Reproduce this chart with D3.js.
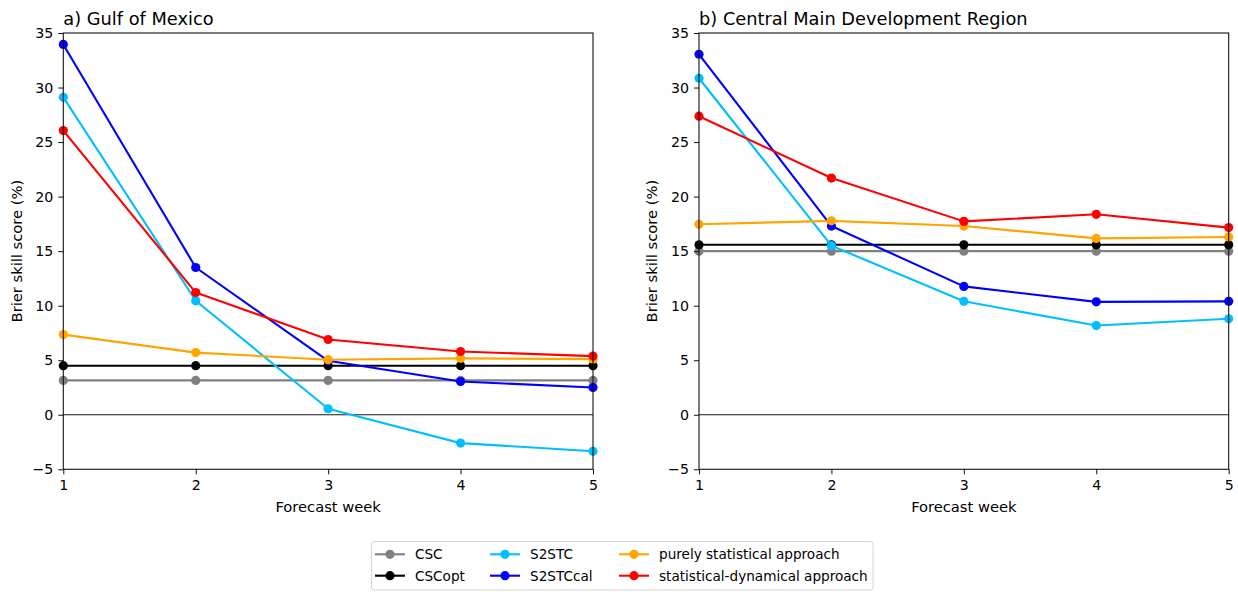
<!DOCTYPE html>
<html>
<head>
<meta charset="utf-8">
<script src="https://cdn.jsdelivr.net/npm/d3@7"></script>
<style>
  body { margin: 0; background: #fff; }
  svg { font-family: "DejaVu Sans", sans-serif; }
</style>
</head>
<body>
<svg id="chart" width="1238" height="592"></svg>
<script>
// forecast weeks on the x axis
var weeks = [1, 2, 3, 4, 5];
var yTicks = [-5, 0, 5, 10, 15, 20, 25, 30, 35];

var seriesNames = ["CSC", "CSCopt", "S2STC", "S2STCcal", "purely statistical approach", "statistical-dynamical approach"];
var seriesColors = ["#808080", "#000000", "#00bfff", "#0000ff", "#ffa500", "#ff0000"];

// a) Gulf of Mexico
var gulfCSC      = [3.15, 3.15, 3.15, 3.15, 3.15];
var gulfCSCopt   = [4.5, 4.5, 4.5, 4.5, 4.5];
var gulfS2STC    = [29.1, 10.45, 0.55, -2.6, -3.35];
var gulfS2STCcal = [33.95, 13.5, 4.95, 3.05, 2.5];
var gulfStat     = [7.35, 5.7, 5.05, 5.17, 5.1];
var gulfStatDyn  = [26.05, 11.2, 6.9, 5.8, 5.38];

// b) Central Main Development Region
var mdrCSC      = [15.0, 15.0, 15.0, 15.0, 15.0];
var mdrCSCopt   = [15.58, 15.58, 15.58, 15.58, 15.58];
var mdrS2STC    = [30.85, 15.5, 10.4, 8.18, 8.8];
var mdrS2STCcal = [33.05, 17.3, 11.77, 10.35, 10.4];
var mdrStat     = [17.46, 17.78, 17.3, 16.17, 16.3];
var mdrStatDyn  = [27.37, 21.7, 17.73, 18.38, 17.16];

var panels = [
  {title: "a) Gulf of Mexico", left: 63.3, series: [gulfCSC, gulfCSCopt, gulfS2STC, gulfS2STCcal, gulfStat, gulfStatDyn]},
  {title: "b) Central Main Development Region", left: 699, series: [mdrCSC, mdrCSCopt, mdrS2STC, mdrS2STCcal, mdrStat, mdrStatDyn]}
];

var svg = d3.select("#chart");
var plotW = 529.7, plotTop = 33, plotBottom = 469.3;

panels.forEach(function(p){
  var x = d3.scaleLinear().domain([1, 5]).range([p.left, p.left + plotW]);
  var y = d3.scaleLinear().domain([-5, 35]).range([plotBottom, plotTop]);
  var g = svg.append("g");

  // zero line
  g.append("line")
    .attr("x1", x(1)).attr("x2", x(5))
    .attr("y1", y(0)).attr("y2", y(0))
    .attr("stroke", "#000").attr("stroke-width", 0.9);

  var line = d3.line().x(function(d, i){ return x(weeks[i]); }).y(function(d){ return y(d); });
  p.series.forEach(function(vals, k){
    var s = g.append("g");
    s.append("path").datum(vals)
      .attr("d", line)
      .attr("fill", "none")
      .attr("stroke", seriesColors[k])
      .attr("stroke-width", 2.1)
      .attr("stroke-linejoin", "round");
    s.selectAll("circle").data(vals).enter().append("circle")
      .attr("cx", function(d, i){ return x(weeks[i]); })
      .attr("cy", function(d){ return y(d); })
      .attr("r", 4.6)
      .attr("fill", seriesColors[k]);
  });

  // frame
  g.append("rect")
    .attr("x", x(1)).attr("y", plotTop)
    .attr("width", plotW).attr("height", plotBottom - plotTop)
    .attr("fill", "none").attr("stroke", "#111").attr("stroke-width", 1.1);

  var yAxis = d3.axisLeft(y).tickValues(yTicks).tickSize(5).tickPadding(5).tickSizeOuter(0);
  var xAxis = d3.axisBottom(x).tickValues(weeks).tickFormat(d3.format("d")).tickSize(5).tickPadding(5.5).tickSizeOuter(0);

  var ya = g.append("g").attr("transform", "translate(" + x(1) + ",0)").call(yAxis);
  var xa = g.append("g").attr("transform", "translate(0," + plotBottom + ")").call(xAxis);
  [ya, xa].forEach(function(a){
    a.select(".domain").remove();
    a.selectAll("line").attr("stroke", "#111").attr("stroke-width", 1);
    a.selectAll("text").attr("font-size", "14.2px").attr("fill", "#000")
      .attr("font-family", "DejaVu Sans, sans-serif");
  });

  g.append("text")
    .attr("x", x(1)).attr("y", 25)
    .attr("font-size", "17.8px")
    .text(p.title);

  g.append("text")
    .attr("x", (x(1) + x(5)) / 2).attr("y", 511.5)
    .attr("text-anchor", "middle")
    .attr("font-size", "14.7px")
    .text("Forecast week");

  g.append("text")
    .attr("transform", "translate(" + (x(1) - 41.7) + "," + ((plotTop + plotBottom) / 2) + ") rotate(-90)")
    .attr("text-anchor", "middle")
    .attr("font-size", "14.7px")
    .text("Brier skill score (%)");
});

// legend
var leg = svg.append("g");
leg.append("rect")
  .attr("x", 371.5).attr("y", 541.5)
  .attr("width", 501.5).attr("height", 48.5)
  .attr("rx", 3).attr("fill", "#fff")
  .attr("stroke", "#d4d4d4").attr("stroke-width", 1);

var colX = [375, 490, 619];
var rowY = [554.3, 575.7];
seriesNames.forEach(function(name, k){
  var cx = colX[Math.floor(k / 2)], cy = rowY[k % 2];
  leg.append("line")
    .attr("x1", cx).attr("x2", cx + 30)
    .attr("y1", cy).attr("y2", cy)
    .attr("stroke", seriesColors[k]).attr("stroke-width", 2.1);
  leg.append("circle")
    .attr("cx", cx + 15).attr("cy", cy).attr("r", 4.6)
    .attr("fill", seriesColors[k]);
  leg.append("text")
    .attr("x", cx + 40).attr("y", cy + 4.8)
    .attr("font-size", "13.6px")
    .text(name);
});
</script>
</body>
</html>
